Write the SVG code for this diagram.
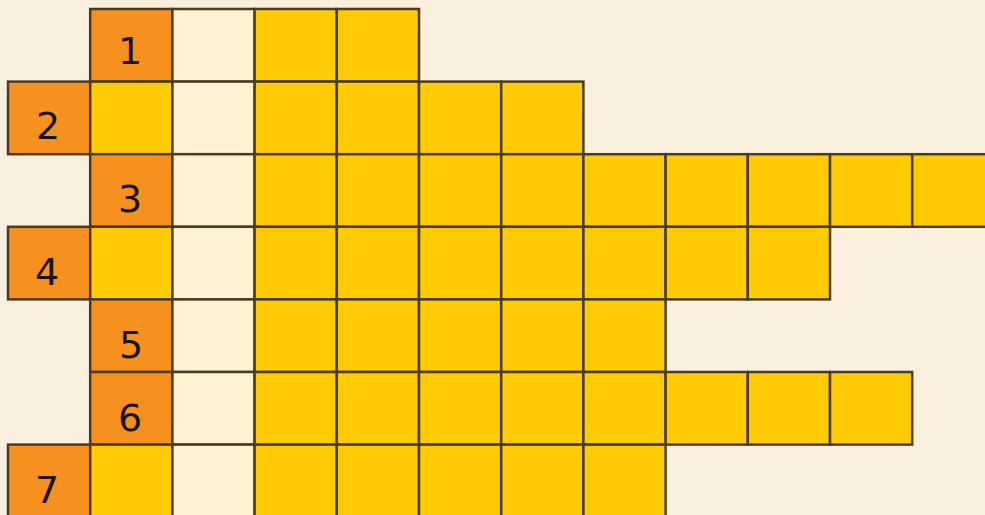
<svg xmlns="http://www.w3.org/2000/svg" width="985" height="515" viewBox="0 0 985 515">
<style>
rect.c{stroke:#4a3b22;stroke-width:2.5}
.o{fill:#F6911F}
.y{fill:#FFCB05}
.w{fill:#FFF3D3}
text{font-family:"DejaVu Sans","Liberation Sans",sans-serif;font-size:38px;fill:#1a1410;text-anchor:middle}
</style>
<rect x="0" y="0" width="985" height="515" fill="#FBF0DD"/>
<g id="row1">
<rect class="c o" x="90.2" y="9" width="82.2" height="72.6"/>
<rect class="c w" x="172.4" y="9" width="82.2" height="72.6"/>
<rect class="c y" x="254.6" y="9" width="82.2" height="72.6"/>
<rect class="c y" x="336.8" y="9" width="82.2" height="72.6"/>
<text x="130" y="64">1</text>
</g>
<g id="row2">
<rect class="c o" x="8" y="81.6" width="82.2" height="72.6"/>
<rect class="c y" x="90.2" y="81.6" width="82.2" height="72.6"/>
<rect class="c w" x="172.4" y="81.6" width="82.2" height="72.6"/>
<rect class="c y" x="254.6" y="81.6" width="82.2" height="72.6"/>
<rect class="c y" x="336.8" y="81.6" width="82.2" height="72.6"/>
<rect class="c y" x="419" y="81.6" width="82.2" height="72.6"/>
<rect class="c y" x="501.2" y="81.6" width="82.2" height="72.6"/>
<text x="48" y="139">2</text>
</g>
<g id="row3">
<rect class="c o" x="90.2" y="154.2" width="82.2" height="72.6"/>
<rect class="c w" x="172.4" y="154.2" width="82.2" height="72.6"/>
<rect class="c y" x="254.6" y="154.2" width="82.2" height="72.6"/>
<rect class="c y" x="336.8" y="154.2" width="82.2" height="72.6"/>
<rect class="c y" x="419" y="154.2" width="82.2" height="72.6"/>
<rect class="c y" x="501.2" y="154.2" width="82.2" height="72.6"/>
<rect class="c y" x="583.4" y="154.2" width="82.2" height="72.6"/>
<rect class="c y" x="665.6" y="154.2" width="82.2" height="72.6"/>
<rect class="c y" x="747.8" y="154.2" width="82.2" height="72.6"/>
<rect class="c y" x="830" y="154.2" width="82.2" height="72.6"/>
<rect class="c y" x="912.2" y="154.2" width="82.2" height="72.6"/>
<text x="130" y="212">3</text>
</g>
<g id="row4">
<rect class="c o" x="8" y="226.8" width="82.2" height="72.6"/>
<rect class="c y" x="90.2" y="226.8" width="82.2" height="72.6"/>
<rect class="c w" x="172.4" y="226.8" width="82.2" height="72.6"/>
<rect class="c y" x="254.6" y="226.8" width="82.2" height="72.6"/>
<rect class="c y" x="336.8" y="226.8" width="82.2" height="72.6"/>
<rect class="c y" x="419" y="226.8" width="82.2" height="72.6"/>
<rect class="c y" x="501.2" y="226.8" width="82.2" height="72.6"/>
<rect class="c y" x="583.4" y="226.8" width="82.2" height="72.6"/>
<rect class="c y" x="665.6" y="226.8" width="82.2" height="72.6"/>
<rect class="c y" x="747.8" y="226.8" width="82.2" height="72.6"/>
<text x="47" y="285">4</text>
</g>
<g id="row5">
<rect class="c o" x="90.2" y="299.4" width="82.2" height="72.6"/>
<rect class="c w" x="172.4" y="299.4" width="82.2" height="72.6"/>
<rect class="c y" x="254.6" y="299.4" width="82.2" height="72.6"/>
<rect class="c y" x="336.8" y="299.4" width="82.2" height="72.6"/>
<rect class="c y" x="419" y="299.4" width="82.2" height="72.6"/>
<rect class="c y" x="501.2" y="299.4" width="82.2" height="72.6"/>
<rect class="c y" x="583.4" y="299.4" width="82.2" height="72.6"/>
<text x="131" y="358">5</text>
</g>
<g id="row6">
<rect class="c o" x="90.2" y="372" width="82.2" height="72.6"/>
<rect class="c w" x="172.4" y="372" width="82.2" height="72.6"/>
<rect class="c y" x="254.6" y="372" width="82.2" height="72.6"/>
<rect class="c y" x="336.8" y="372" width="82.2" height="72.6"/>
<rect class="c y" x="419" y="372" width="82.2" height="72.6"/>
<rect class="c y" x="501.2" y="372" width="82.2" height="72.6"/>
<rect class="c y" x="583.4" y="372" width="82.2" height="72.6"/>
<rect class="c y" x="665.6" y="372" width="82.2" height="72.6"/>
<rect class="c y" x="747.8" y="372" width="82.2" height="72.6"/>
<rect class="c y" x="830" y="372" width="82.2" height="72.6"/>
<text x="130" y="431">6</text>
</g>
<g id="row7">
<rect class="c o" x="8" y="444.6" width="82.2" height="72.6"/>
<rect class="c y" x="90.2" y="444.6" width="82.2" height="72.6"/>
<rect class="c w" x="172.4" y="444.6" width="82.2" height="72.6"/>
<rect class="c y" x="254.6" y="444.6" width="82.2" height="72.6"/>
<rect class="c y" x="336.8" y="444.6" width="82.2" height="72.6"/>
<rect class="c y" x="419" y="444.6" width="82.2" height="72.6"/>
<rect class="c y" x="501.2" y="444.6" width="82.2" height="72.6"/>
<rect class="c y" x="583.4" y="444.6" width="82.2" height="72.6"/>
<text x="47" y="503">7</text>
</g>
</svg>
